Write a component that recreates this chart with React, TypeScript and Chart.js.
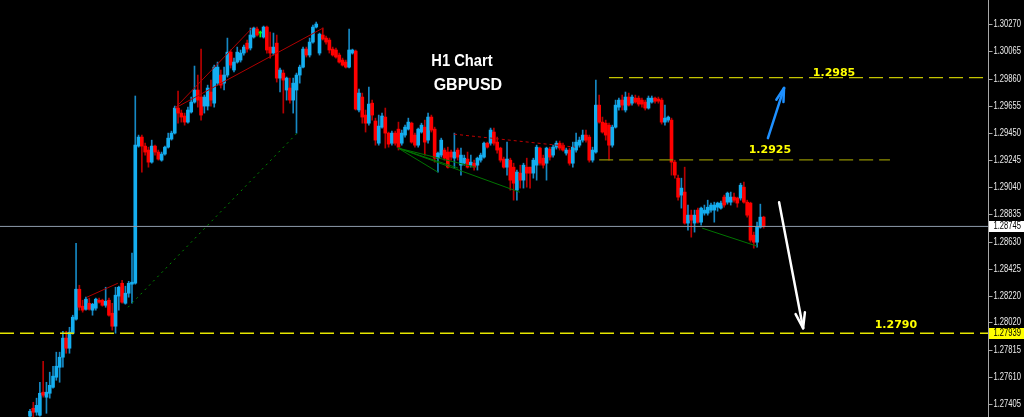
import React, { useEffect, useRef } from "react";
import { Chart, registerables } from "chart.js";

Chart.register(...registerables);

// GBPUSD hourly bars, oldest first
const openPrices = [
  1.27313, 1.27373, 1.27343, 1.27320, 1.27494, 1.27456, 1.27486, 1.27531, 1.27607, 1.27682,
  1.27758, 1.27902, 1.27826, 1.27939, 1.28045, 1.28271, 1.28143, 1.28120, 1.28165, 1.28113,
  1.28128, 1.28188, 1.28188, 1.28150, 1.28188, 1.28090, 1.27992, 1.28219, 1.28316, 1.28165,
  1.28241, 1.28309, 1.28316, 1.29351, 1.29419, 1.29351, 1.29321, 1.29230, 1.29351, 1.29306,
  1.29245, 1.29291, 1.29343, 1.29404, 1.29449, 1.29638, 1.29600, 1.29578, 1.29532, 1.29608,
  1.29683, 1.29774, 1.29721, 1.29653, 1.29653, 1.29759, 1.29675, 1.29826, 1.29887, 1.29826,
  1.29887, 1.30060, 1.29925, 1.29985, 1.30000, 1.30053, 1.30128, 1.30091, 1.30174, 1.30234,
  1.30204, 1.30174, 1.30249, 1.30098, 1.30053, 1.30128, 1.29864, 1.29902, 1.29774, 1.29789,
  1.29698, 1.29774, 1.29887, 1.29947, 1.30083, 1.30038, 1.30136, 1.30249, 1.30053, 1.30189,
  1.30166, 1.30151, 1.30083, 1.30076, 1.30038, 1.30000, 1.29985, 1.29947, 1.30053, 1.30068,
  1.29623, 1.29721, 1.29585, 1.29524, 1.29675, 1.29540, 1.29373, 1.29494, 1.29570, 1.29449,
  1.29373, 1.29449, 1.29479, 1.29373, 1.29434, 1.29479, 1.29524, 1.29434, 1.29358, 1.29457,
  1.29494, 1.29396, 1.29570, 1.29479, 1.29260, 1.29283, 1.29321, 1.29306, 1.29306, 1.29260,
  1.29321, 1.29207, 1.29222, 1.29253, 1.29207, 1.29222, 1.29207, 1.29245, 1.29268, 1.29373,
  1.29373, 1.29457, 1.29381, 1.29336, 1.29253, 1.29192, 1.29245, 1.29192, 1.29019, 1.29147,
  1.29094, 1.29192, 1.29192, 1.29147, 1.29207, 1.29336, 1.29260, 1.29222, 1.29328, 1.29283,
  1.29343, 1.29373, 1.29358, 1.29298, 1.29321, 1.29222, 1.29321, 1.29358, 1.29396, 1.29434,
  1.29419, 1.29245, 1.29306, 1.29660, 1.29532, 1.29524, 1.29509, 1.29358, 1.29494, 1.29645,
  1.29698, 1.29623, 1.29721, 1.29675, 1.29713, 1.29713, 1.29698, 1.29683, 1.29638, 1.29683,
  1.29713, 1.29706, 1.29698, 1.29532, 1.29547, 1.29547, 1.29230, 1.29109, 1.28981, 1.29004,
  1.28770, 1.28830, 1.28770, 1.28868, 1.28777, 1.28845, 1.28845, 1.28868, 1.28868, 1.28890,
  1.28883, 1.28966, 1.28928, 1.28928, 1.28966, 1.28959, 1.28959, 1.29041, 1.28928, 1.28921,
  1.28679, 1.28626, 1.28739, 1.28815,
];

const highPrices = [
  1.27365, 1.27418, 1.27449, 1.27569, 1.27727, 1.27569, 1.27645, 1.27690, 1.27796, 1.27796,
  1.27954, 1.27954, 1.27984, 1.28075, 1.28618, 1.28301, 1.28188, 1.28211, 1.28204, 1.28165,
  1.28204, 1.28204, 1.28196, 1.28286, 1.28204, 1.28165, 1.28286, 1.28294, 1.28339, 1.28294,
  1.28331, 1.28543, 1.29729, 1.29434, 1.29434, 1.29373, 1.29343, 1.29396, 1.29358, 1.29321,
  1.29306, 1.29351, 1.29449, 1.29464, 1.29653, 1.29766, 1.29623, 1.29600, 1.29645, 1.29721,
  1.29955, 1.29887, 1.30083, 1.29736, 1.29811, 1.29849, 1.29962, 1.29985, 1.29925, 1.29947,
  1.30166, 1.30076, 1.30015, 1.30098, 1.30076, 1.30113, 1.30151, 1.30242, 1.30249, 1.30249,
  1.30219, 1.30257, 1.30257, 1.30211, 1.30204, 1.30189, 1.29940, 1.29925, 1.29872, 1.29864,
  1.29864, 1.29902, 1.29962, 1.30098, 1.30098, 1.30166, 1.30264, 1.30287, 1.30204, 1.30242,
  1.30181, 1.30166, 1.30098, 1.30091, 1.30053, 1.30015, 1.30000, 1.30234, 1.30083, 1.30076,
  1.29781, 1.29751, 1.29623, 1.29796, 1.29698, 1.29562, 1.29585, 1.29600, 1.29638, 1.29457,
  1.29464, 1.29464, 1.29532, 1.29472, 1.29509, 1.29562, 1.29532, 1.29449, 1.29487, 1.29524,
  1.29547, 1.29600, 1.29585, 1.29494, 1.29306, 1.29411, 1.29336, 1.29343, 1.29321, 1.29449,
  1.29336, 1.29336, 1.29283, 1.29306, 1.29283, 1.29245, 1.29268, 1.29298, 1.29381, 1.29381,
  1.29487, 1.29487, 1.29419, 1.29343, 1.29268, 1.29381, 1.29260, 1.29222, 1.29170, 1.29207,
  1.29222, 1.29260, 1.29192, 1.29260, 1.29358, 1.29343, 1.29283, 1.29343, 1.29343, 1.29358,
  1.29389, 1.29389, 1.29373, 1.29336, 1.29336, 1.29381, 1.29449, 1.29419, 1.29472, 1.29472,
  1.29434, 1.29343, 1.29849, 1.29736, 1.29570, 1.29547, 1.29524, 1.29509, 1.29698, 1.29713,
  1.29736, 1.29759, 1.29751, 1.29736, 1.29736, 1.29729, 1.29713, 1.29698, 1.29729, 1.29729,
  1.29721, 1.29721, 1.29713, 1.29660, 1.29578, 1.29562, 1.29245, 1.29132, 1.29109, 1.29192,
  1.28906, 1.28868, 1.28868, 1.28883, 1.28890, 1.28906, 1.28943, 1.28921, 1.28928, 1.28928,
  1.28936, 1.28981, 1.29004, 1.29004, 1.28996, 1.28966, 1.29071, 1.29079, 1.28943, 1.28928,
  1.28702, 1.28777, 1.28913, 1.28822,
];

const lowPrices = [
  1.27290, 1.27305, 1.27320, 1.27313, 1.27456, 1.27335, 1.27449, 1.27524, 1.27584, 1.27569,
  1.27682, 1.27788, 1.27788, 1.27932, 1.28037, 1.28113, 1.28098, 1.28113, 1.28113, 1.28075,
  1.28113, 1.28165, 1.28143, 1.28135, 1.28068, 1.27962, 1.27939, 1.28113, 1.28165, 1.28158,
  1.28211, 1.28165, 1.28309, 1.29343, 1.29155, 1.29283, 1.29192, 1.29222, 1.29283, 1.29245,
  1.29237, 1.29283, 1.29336, 1.29396, 1.29442, 1.29524, 1.29532, 1.29509, 1.29524, 1.29600,
  1.29675, 1.29645, 1.29547, 1.29600, 1.29623, 1.29653, 1.29645, 1.29811, 1.29789, 1.29774,
  1.29872, 1.29940, 1.29910, 1.29977, 1.29985, 1.30038, 1.30060, 1.30076, 1.30166, 1.30181,
  1.30174, 1.30166, 1.30053, 1.30015, 1.30038, 1.29834, 1.29759, 1.29600, 1.29698, 1.29675,
  1.29600, 1.29449, 1.29826, 1.29940, 1.30023, 1.30023, 1.30128, 1.30242, 1.30038, 1.30151,
  1.30121, 1.30053, 1.30030, 1.30015, 1.29977, 1.29955, 1.29940, 1.29940, 1.30045, 1.29623,
  1.29608, 1.29524, 1.29457, 1.29509, 1.29547, 1.29358, 1.29358, 1.29487, 1.29336, 1.29343,
  1.29358, 1.29358, 1.29321, 1.29358, 1.29419, 1.29472, 1.29373, 1.29343, 1.29343, 1.29449,
  1.29283, 1.29373, 1.29457, 1.29230, 1.29155, 1.29268, 1.29245, 1.29185, 1.29245, 1.29185,
  1.29245, 1.29132, 1.29207, 1.29185, 1.29192, 1.29170, 1.29170, 1.29230, 1.29260, 1.29336,
  1.29358, 1.29358, 1.29298, 1.29230, 1.29185, 1.29132, 1.29019, 1.28943, 1.28943, 1.29034,
  1.29034, 1.29041, 1.29034, 1.29109, 1.29094, 1.29207, 1.29185, 1.29094, 1.29245, 1.29268,
  1.29328, 1.29321, 1.29313, 1.29283, 1.29207, 1.29192, 1.29306, 1.29343, 1.29381, 1.29381,
  1.29230, 1.29230, 1.29298, 1.29524, 1.29449, 1.29396, 1.29245, 1.29343, 1.29487, 1.29623,
  1.29623, 1.29608, 1.29653, 1.29660, 1.29675, 1.29653, 1.29645, 1.29623, 1.29630, 1.29675,
  1.29675, 1.29675, 1.29517, 1.29509, 1.29532, 1.29132, 1.29109, 1.28943, 1.28883, 1.28762,
  1.28717, 1.28664, 1.28702, 1.28770, 1.28755, 1.28830, 1.28830, 1.28853, 1.28777, 1.28860,
  1.28875, 1.28890, 1.28913, 1.28906, 1.28928, 1.28890, 1.28943, 1.28921, 1.28815, 1.28626,
  1.28581, 1.28588, 1.28732, 1.28732,
];

const closePrices = [
  1.27350, 1.27343, 1.27395, 1.27486, 1.27471, 1.27494, 1.27546, 1.27615, 1.27690, 1.27758,
  1.27902, 1.27826, 1.27947, 1.28060, 1.28271, 1.28135, 1.28113, 1.28196, 1.28120, 1.28158,
  1.28196, 1.28173, 1.28150, 1.28180, 1.28075, 1.27992, 1.28226, 1.28286, 1.28173, 1.28241,
  1.28316, 1.28324, 1.29358, 1.29419, 1.29351, 1.29306, 1.29230, 1.29351, 1.29306, 1.29253,
  1.29291, 1.29343, 1.29411, 1.29449, 1.29638, 1.29600, 1.29570, 1.29532, 1.29623, 1.29683,
  1.29774, 1.29698, 1.29585, 1.29721, 1.29789, 1.29698, 1.29947, 1.29947, 1.29811, 1.29887,
  1.30060, 1.29962, 1.29985, 1.30060, 1.30053, 1.30098, 1.30083, 1.30189, 1.30242, 1.30189,
  1.30204, 1.30249, 1.30076, 1.30053, 1.30098, 1.29864, 1.29925, 1.29849, 1.29864, 1.29698,
  1.29826, 1.29887, 1.29947, 1.30083, 1.30038, 1.30136, 1.30249, 1.30272, 1.30196, 1.30159,
  1.30136, 1.30076, 1.30038, 1.30023, 1.29985, 1.29962, 1.29947, 1.30076, 1.30076, 1.29630,
  1.29751, 1.29570, 1.29524, 1.29668, 1.29585, 1.29396, 1.29502, 1.29578, 1.29449, 1.29366,
  1.29449, 1.29373, 1.29343, 1.29449, 1.29494, 1.29532, 1.29381, 1.29358, 1.29479, 1.29509,
  1.29381, 1.29570, 1.29472, 1.29260, 1.29298, 1.29396, 1.29260, 1.29192, 1.29268, 1.29306,
  1.29268, 1.29283, 1.29260, 1.29192, 1.29230, 1.29192, 1.29260, 1.29283, 1.29373, 1.29343,
  1.29472, 1.29373, 1.29321, 1.29245, 1.29192, 1.29253, 1.29094, 1.29071, 1.29155, 1.29094,
  1.29207, 1.29147, 1.29147, 1.29245, 1.29343, 1.29222, 1.29207, 1.29336, 1.29268, 1.29343,
  1.29373, 1.29336, 1.29321, 1.29321, 1.29222, 1.29343, 1.29381, 1.29396, 1.29434, 1.29396,
  1.29245, 1.29321, 1.29660, 1.29532, 1.29457, 1.29434, 1.29358, 1.29494, 1.29660, 1.29698,
  1.29660, 1.29721, 1.29660, 1.29721, 1.29683, 1.29668, 1.29668, 1.29638, 1.29713, 1.29713,
  1.29690, 1.29690, 1.29532, 1.29562, 1.29570, 1.29230, 1.29132, 1.28966, 1.29034, 1.28770,
  1.28830, 1.28792, 1.28830, 1.28777, 1.28883, 1.28868, 1.28890, 1.28906, 1.28906, 1.28921,
  1.28921, 1.28906, 1.28996, 1.28966, 1.28943, 1.28921, 1.29056, 1.28928, 1.28830, 1.28641,
  1.28626, 1.28739, 1.28815, 1.28745,
];

// price axis
const priceTicks = [
  1.27405, 1.2761, 1.27815, 1.2802, 1.2822, 1.28425, 1.2863, 1.28835,
  1.2904, 1.29245, 1.2945, 1.29655, 1.2986, 1.30065, 1.3027,
];
const priceMin = 1.273069;
const priceMax = 1.304534;
const barMin = -9.12;
const barMax = 291.2;

const bidPrice = 1.28745;
const alertPrice = 1.27939;

// horizontal levels: price, first bar, last bar, caption, caption anchor
const levelPrices = [1.29868, 1.29247, 1.27939];
const levelFrom = [176, 173, barMin];
const levelTo = [barMax, 261.4, barMax];
const levelCaptions = ["1.2985", "1.2925", "1.2790"];
const levelCaptionAt = [
  [244.4, 1.29902],
  [224.9, 1.2932],
  [263.2, 1.27999],
];

// hand-drawn studies: [bar1, price1, bar2, price2]
const redTrendLines = [
  [17.3, 1.28211, 26.7, 1.28316],
  [44.1, 1.29638, 67.8, 1.30249],
  [44.1, 1.29638, 89.1, 1.30242],
];
const redDashedLine = [128.9, 1.29441, 165.7, 1.29343];
const greenTrendLines = [
  [111.9, 1.29336, 124.0, 1.29154],
  [111.9, 1.29336, 130.1, 1.29185],
  [111.9, 1.29336, 135.3, 1.29192],
  [111.9, 1.29336, 148.9, 1.29003],
  [204.3, 1.28732, 221.0, 1.28596],
];
const greenDottedLine = [29.8, 1.28135, 81.2, 1.29449];
const upArrow = [224.3, 1.29411, 229.2, 1.29789];
const downArrow = [227.7, 1.28928, 235.0, 1.27977];

const titleLines = ["H1 Chart", "GBPUSD"];
const titleAt = [
  [131.3, 1.29985],
  [133.1, 1.29804],
];
const titleStretch = [0.92, 1.0];

const BULL = "#14aef0";
const BULL_WICK = "#1688c4";
const BEAR = "#ff0000";
const BEAR_WICK = "#b80000";
const DOJI = "#00ff00";

function candleColor(i: number, wick: boolean) {
  const o = openPrices[i];
  const c = closePrices[i];
  if (c > o) return wick ? BULL_WICK : BULL;
  if (c < o) return wick ? BEAR_WICK : BEAR;
  return DOJI;
}

function segment(p: number[], color: string, width: number, dash: number[] = []) {
  return {
    type: "line" as const,
    data: [
      { x: p[0], y: p[1] },
      { x: p[2], y: p[3] },
    ],
    borderColor: color,
    borderWidth: width,
    borderDash: dash,
    pointRadius: 0,
    tension: 0,
    order: 0,
  };
}

function squashedText(ctx: CanvasRenderingContext2D, text: string, x: number, y: number, sx: number) {
  ctx.save();
  ctx.translate(x, y);
  ctx.scale(sx, 1);
  ctx.fillText(text, 0, 0);
  ctx.restore();
}

function arrow(
  ctx: CanvasRenderingContext2D,
  x1: number, y1: number, x2: number, y2: number,
  color: string, width: number, head: number, spread: number
) {
  ctx.save();
  ctx.strokeStyle = color;
  ctx.lineWidth = width;
  ctx.lineCap = "round";
  ctx.beginPath();
  ctx.moveTo(x1, y1);
  ctx.lineTo(x2, y2);
  ctx.stroke();
  const a = Math.atan2(y2 - y1, x2 - x1);
  for (const d of [-spread, spread]) {
    ctx.beginPath();
    ctx.moveTo(x2, y2);
    ctx.lineTo(x2 - head * Math.cos(a + d), y2 - head * Math.sin(a + d));
    ctx.stroke();
  }
  ctx.restore();
}

const overlay = {
  id: "terminalOverlay",
  afterDraw(chart: any) {
    const { ctx, chartArea, scales } = chart;
    const X = (v: number) => scales.x.getPixelForValue(v);
    const Y = (v: number) => scales.y.getPixelForValue(v);

    // title
    ctx.save();
    ctx.fillStyle = "#ffffff";
    ctx.font = 'bold 16px "Liberation Sans"';
    ctx.textAlign = "center";
    ctx.textBaseline = "middle";
    titleLines.forEach((t, k) =>
      squashedText(ctx, t, X(titleAt[k][0]), Y(titleAt[k][1]), titleStretch[k])
    );
    ctx.restore();

    // level captions
    ctx.save();
    ctx.fillStyle = "#ffff00";
    ctx.font = 'bold 11px "DejaVu Sans"';
    ctx.textAlign = "center";
    ctx.textBaseline = "middle";
    levelCaptions.forEach((t, k) => ctx.fillText(t, X(levelCaptionAt[k][0]), Y(levelCaptionAt[k][1])));
    ctx.restore();

    // direction arrows
    arrow(ctx, X(upArrow[0]), Y(upArrow[1]), X(upArrow[2]), Y(upArrow[3]), "#1e90ff", 2.5, 14, 0.27);
    arrow(ctx, X(downArrow[0]), Y(downArrow[1]), X(downArrow[2]), Y(downArrow[3]), "#ffffff", 2.5, 16, 0.3);

    // price axis
    const axisX = Math.round(chartArea.right) + 0.5;
    ctx.save();
    ctx.fillStyle = "#000000";
    ctx.fillRect(axisX, 0, chart.width - axisX, chart.height);
    ctx.strokeStyle = "#a8a8a8";
    ctx.lineWidth = 1;
    ctx.beginPath();
    ctx.moveTo(axisX, 0);
    ctx.lineTo(axisX, chart.height);
    ctx.stroke();
    ctx.font = '10px "Liberation Sans"';
    ctx.textAlign = "left";
    ctx.textBaseline = "middle";
    ctx.fillStyle = "#ececec";
    for (const t of priceTicks) {
      const y = Math.round(Y(t)) + 0.5;
      ctx.beginPath();
      ctx.moveTo(axisX, y);
      ctx.lineTo(axisX + 4, y);
      ctx.stroke();
      squashedText(ctx, t.toFixed(5), axisX + 5, y, 0.76);
    }
    const tags: [number, string][] = [
      [bidPrice, "#ffffff"],
      [alertPrice, "#ffff00"],
    ];
    for (const [p, bg] of tags) {
      const y = Math.round(Y(p));
      ctx.fillStyle = bg;
      ctx.fillRect(axisX + 0.5, y - 5, chart.width - axisX, 11);
      ctx.fillStyle = "#000000";
      squashedText(ctx, p.toFixed(5), axisX + 5, y + 0.5, 0.76);
    }
    ctx.restore();
  },
};

export default function App() {
  const ref = useRef<HTMLCanvasElement>(null);

  useEffect(() => {
    document.body.style.margin = "0";
    document.body.style.background = "#000";
    const idx = openPrices.map((_, i) => i);

    const wicks = {
      type: "bar" as const,
      data: idx.map((i) => ({ x: i, y: [lowPrices[i], highPrices[i]] })),
      backgroundColor: idx.map((i) => candleColor(i, true)),
      barThickness: 1,
      grouped: false,
      borderWidth: 0,
      order: 5,
    };
    const bodies = {
      type: "bar" as const,
      data: idx.map((i) => ({
        x: i,
        y: [Math.min(openPrices[i], closePrices[i]), Math.max(openPrices[i], closePrices[i])],
      })),
      backgroundColor: idx.map((i) => candleColor(i, false)),
      barThickness: 3,
      minBarLength: 1,
      grouped: false,
      borderWidth: 0,
      order: 4,
    };

    const levelColors = ["#c4c400", "#8f8f00", "#e6e600"];
    const levels = levelPrices.map((p, k) =>
      segment([levelFrom[k], p, levelTo[k], p], levelColors[k], 1.3, [14, 6])
    );

    const chart = new Chart(ref.current as HTMLCanvasElement, {
      data: {
        datasets: [
          segment([barMin, bidPrice, barMax, bidPrice], "#8e9cac", 1),
          ...levels,
          ...redTrendLines.map((s) => segment(s, "#b00000", 1)),
          segment(redDashedLine, "#c00000", 1, [3, 3]),
          ...greenTrendLines.map((s) => segment(s, "#007400", 1)),
          segment(greenDottedLine, "#008a00", 1, [2, 4]),
          bodies,
          wicks,
        ] as any,
      },
      options: {
        responsive: false,
        animation: false,
        devicePixelRatio: 1,
        events: [],
        layout: { padding: { left: 0, top: 0, bottom: 0, right: 36 } },
        plugins: { legend: { display: false }, tooltip: { enabled: false } },
        scales: {
          x: { type: "linear", min: barMin, max: barMax, display: false, offset: false },
          y: { type: "linear", min: priceMin, max: priceMax, display: false },
        },
      },
      plugins: [overlay],
    });
    return () => chart.destroy();
  }, []);

  return (
    <div style={{ width: 1024, height: 417, background: "#000" }}>
      <canvas ref={ref} width={1024} height={417} style={{ display: "block" }} />
    </div>
  );
}
